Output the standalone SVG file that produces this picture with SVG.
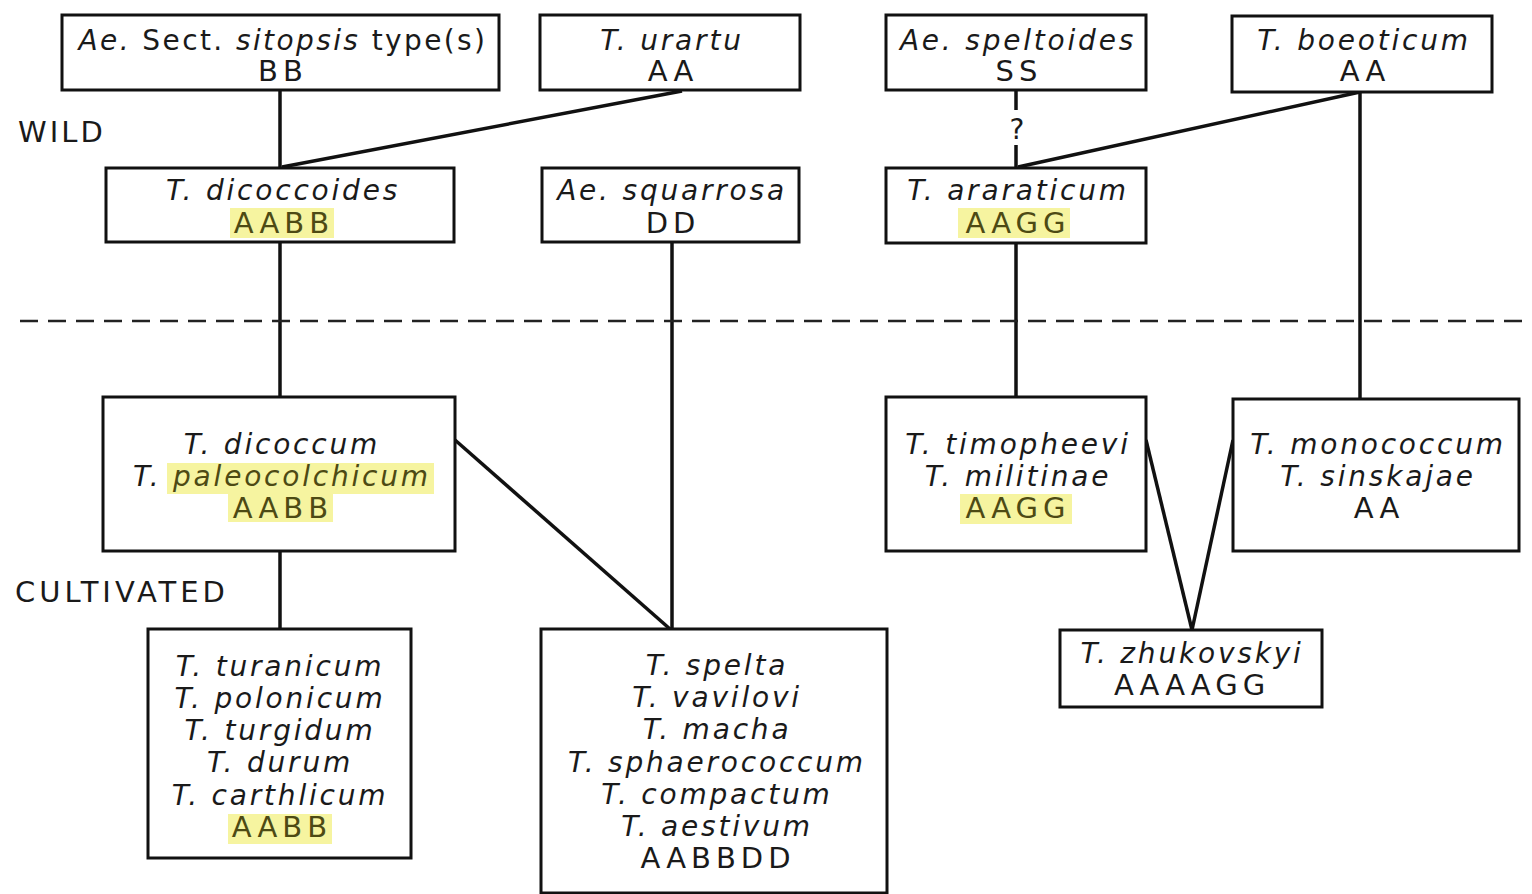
<svg xmlns="http://www.w3.org/2000/svg" width="1532" height="894" viewBox="0 0 1532 894">
<style>
.box{fill:#fff;stroke:#111;stroke-width:3}
.t{font-family:"DejaVu Sans","Liberation Sans",sans-serif;font-size:28px;fill:#1a1a1a;text-anchor:middle;letter-spacing:2.8px}
.c{font-size:29px;letter-spacing:5px}
.i{font-style:italic}
.hl{fill:#f6f4a0}
.ht{fill:#4d4a14}
.ln{stroke:#111;stroke-width:3.5;fill:none}
.lab{font-family:"DejaVu Sans","Liberation Sans",sans-serif;font-size:29px;fill:#1a1a1a}
</style>
<rect width="1532" height="894" fill="#fff"/>
<g id="connectors">
<line class="ln" x1="280" y1="90" x2="280" y2="168"/>
<line class="ln" x1="682" y1="91" x2="282" y2="167"/>
<line class="ln" x1="280" y1="242" x2="280" y2="397"/>
<line class="ln" x1="280" y1="551" x2="280" y2="629"/>
<line class="ln" x1="672" y1="242" x2="672" y2="629"/>
<line class="ln" x1="455" y1="440" x2="670" y2="629"/>
<line class="ln" x1="1016" y1="90" x2="1016" y2="110"/>
<line class="ln" x1="1016" y1="145" x2="1016" y2="168"/>
<line class="ln" x1="1360" y1="92" x2="1018" y2="167"/>
<line class="ln" x1="1360" y1="92" x2="1360" y2="399"/>
<line class="ln" x1="1016" y1="243" x2="1016" y2="397"/>
<line class="ln" x1="1146" y1="440" x2="1192" y2="630"/>
<line class="ln" x1="1233" y1="440" x2="1192" y2="630"/>
<line x1="20" y1="321" x2="1532" y2="321" stroke="#222" stroke-width="2.5" stroke-dasharray="18 10"/>
</g>
<text class="t" x="1017" y="139" style="letter-spacing:0">?</text>
<text class="lab" x="18" y="142" style="letter-spacing:3px">WILD</text>
<text class="lab" x="15" y="602" style="letter-spacing:4px">CULTIVATED</text>
<g id="sitopsis">
<rect class="box" x="62" y="15" width="437" height="75"/>
<text class="t" x="283" y="50" style="letter-spacing:2.4px"><tspan class="i">Ae.</tspan> Sect. <tspan class="i">sitopsis</tspan> type(s)</text>
<text class="t c" x="283" y="81">BB</text>
</g>
<g id="urartu">
<rect class="box" x="540" y="15" width="260" height="75"/>
<text class="t i" x="672" y="50">T. urartu</text>
<text class="t c" x="673" y="81">AA</text>
</g>
<g id="speltoides">
<rect class="box" x="886" y="15" width="260" height="75"/>
<text class="t i" x="1018" y="50">Ae. speltoides</text>
<text class="t c" x="1019" y="81">SS</text>
</g>
<g id="boeoticum">
<rect class="box" x="1232" y="16" width="260" height="76"/>
<text class="t i" x="1364" y="50">T. boeoticum</text>
<text class="t c" x="1365" y="81">AA</text>
</g>
<g id="dicoccoides">
<rect class="box" x="106" y="168" width="348" height="74"/>
<text class="t i" x="283" y="200">T. dicoccoides</text>
<rect class="hl" x="230" y="208" width="104" height="30"/>
<text class="t c ht" x="284" y="233">AABB</text>
</g>
<g id="squarrosa">
<rect class="box" x="542" y="168" width="257" height="74"/>
<text class="t i" x="672" y="200">Ae. squarrosa</text>
<text class="t c" x="673" y="233">DD</text>
</g>
<g id="araraticum">
<rect class="box" x="886" y="168" width="260" height="75"/>
<text class="t i" x="1018" y="200">T. araraticum</text>
<rect class="hl" x="958" y="208" width="112" height="30"/>
<text class="t c ht" x="1018" y="233">AAGG</text>
</g>
<g id="dicoccum">
<rect class="box" x="103" y="397" width="352" height="154"/>
<text class="t i" x="282" y="454">T. dicoccum</text>
<rect class="hl" x="167" y="463" width="267" height="31"/>
<text class="t i" x="282" y="486">T. <tspan class="ht">paleocolchicum</tspan></text>
<rect class="hl" x="228" y="494" width="105" height="28"/>
<text class="t c ht" x="283" y="518">AABB</text>
</g>
<g id="timopheevi">
<rect class="box" x="886" y="397" width="260" height="154"/>
<text class="t i" x="1018" y="454">T. timopheevi</text>
<text class="t i" x="1018" y="486">T. militinae</text>
<rect class="hl" x="960" y="494" width="112" height="30"/>
<text class="t c ht" x="1018" y="518">AAGG</text>
</g>
<g id="monococcum">
<rect class="box" x="1233" y="399" width="286" height="152"/>
<text class="t i" x="1378" y="454">T. monococcum</text>
<text class="t i" x="1378" y="486">T. sinskajae</text>
<text class="t c" x="1379" y="518">AA</text>
</g>
<g id="zhukovskyi">
<rect class="box" x="1060" y="630" width="262" height="77"/>
<text class="t i" x="1192" y="663">T. zhukovskyi</text>
<text class="t c" x="1192" y="695">AAAAGG</text>
</g>
<g id="turanicum">
<rect class="box" x="148" y="629" width="263" height="229"/>
<text class="t i" x="280" y="676">T. turanicum</text>
<text class="t i" x="280" y="708">T. polonicum</text>
<text class="t i" x="280" y="740">T. turgidum</text>
<text class="t i" x="280" y="772">T. durum</text>
<text class="t i" x="280" y="805">T. carthlicum</text>
<rect class="hl" x="228" y="814" width="104" height="30"/>
<text class="t c ht" x="282" y="837">AABB</text>
</g>
<g id="spelta">
<rect class="box" x="541" y="629" width="346" height="264"/>
<text class="t i" x="717" y="675">T. spelta</text>
<text class="t i" x="717" y="707">T. vavilovi</text>
<text class="t i" x="717" y="739">T. macha</text>
<text class="t i" x="717" y="772">T. sphaerococcum</text>
<text class="t i" x="717" y="804">T. compactum</text>
<text class="t i" x="717" y="836">T. aestivum</text>
<text class="t c" x="718" y="868">AABBDD</text>
</g>
</svg>
